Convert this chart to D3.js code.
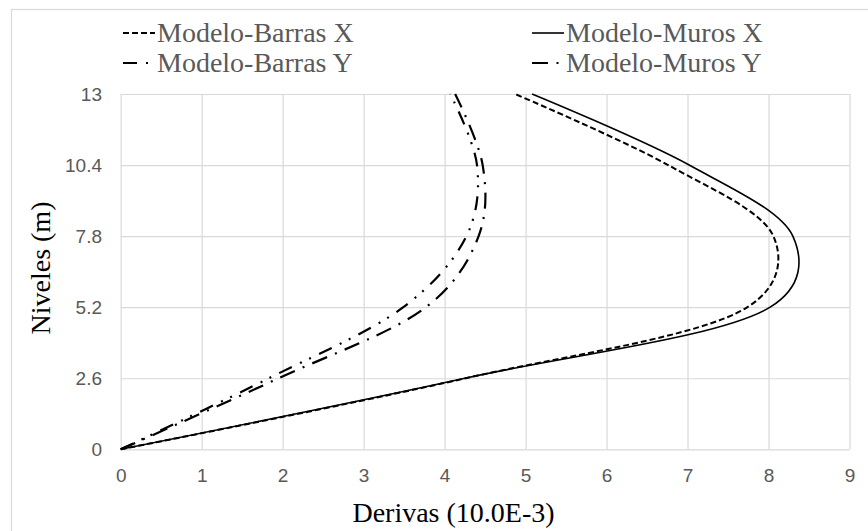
<!DOCTYPE html>
<html>
<head>
<meta charset="utf-8">
<script src="https://cdn.jsdelivr.net/npm/d3@7"></script>
<style>
body { margin: 0; background: #fff; }
</style>
</head>
<body>
<script>
// niveles de cada piso (m)
var niveles = [0, 2.6, 5.2, 7.8, 10.4, 13];

// derivas por nivel (10.0E-3)
var barrasX = [0, 4.26, 7.74, 8.06, 6.76, 4.87];
var murosX  = [0, 4.25, 8.02, 8.30, 7.02, 5.08];
var barrasY = [0, 1.83, 3.49, 4.27, 4.40, 4.07];
var murosY  = [0, 1.95, 3.77, 4.42, 4.47, 4.13];

var nombres = ["Modelo-Barras X", "Modelo-Muros X", "Modelo-Barras Y", "Modelo-Muros Y"];

var xTicks = [0, 1, 2, 3, 4, 5, 6, 7, 8, 9];
var yTicks = [0, 2.6, 5.2, 7.8, 10.4, 13];

function drawChart() {

    var width = 868, height = 531;
    var left = 120.7, right = 849.5, top = 94, bottom = 449.3;

    var svg = d3.select("body").append("svg")
        .attr("width", width)
        .attr("height", height);

    // chart border
    svg.append("rect")
        .attr("x", 11.5)
        .attr("y", 9.5)
        .attr("width", 880)
        .attr("height", 540)
        .attr("fill", "#fff")
        .attr("stroke", "#d9d9d9")
        .attr("stroke-width", 1.2);

    var x = d3.scaleLinear().domain([0, 9]).range([left, right]);
    var y = d3.scaleLinear().domain([0, 13]).range([bottom, top]);

    var xAxis = svg.append("g")
        .attr("transform", "translate(0," + bottom + ")")
        .call(d3.axisBottom(x).tickValues(xTicks).tickSize(-(bottom - top)).tickPadding(19.2).tickFormat(d3.format("d")));

    var yAxis = svg.append("g")
        .attr("transform", "translate(" + left + ",0)")
        .call(d3.axisLeft(y).tickValues(yTicks).tickSize(-(right - left)).tickPadding(18.7).tickFormat(function(d) { return String(d); }));

    [xAxis, yAxis].forEach(function(a) {
        a.select(".domain").remove();
        a.selectAll(".tick line")
            .attr("stroke", "#d9d9d9")
            .attr("stroke-width", 1.2);
        a.selectAll(".tick text")
            .attr("fill", "#595959")
            .style("font-family", "'Liberation Sans', Arial, sans-serif")
            .style("font-size", "19px");
    });

    // series
    var series = [barrasX, murosX, barrasY, murosY];
    var estilos = [
        { dash: "6,3", w: 2 },
        { dash: null, w: 1.6 },
        { dash: "14,9,2,8,2,9", w: 2.2 },
        { dash: "16,8.5,2,8.5", w: 2.2 }
    ];

    var line = d3.line()
        .x(function(d) { return x(d[0]); })
        .y(function(d) { return y(d[1]); })
        .curve(d3.curveCatmullRom.alpha(0.25));

    series.forEach(function(s, i) {
        var pts = s.map(function(v, j) { return [v, niveles[j]]; });
        svg.append("path")
            .datum(pts)
            .attr("d", line)
            .attr("fill", "none")
            .attr("stroke", "#000")
            .attr("stroke-width", estilos[i].w)
            .attr("stroke-dasharray", estilos[i].dash);
    });

    // legend
    var colX = [123, 532];
    var rowY = [33, 63];
    nombres.forEach(function(n, i) {
        var lx = colX[i % 2], ly = rowY[Math.floor(i / 2)];
        svg.append("line")
            .attr("x1", lx)
            .attr("x2", lx + 32)
            .attr("y1", ly)
            .attr("y2", ly)
            .attr("stroke", "#000")
            .attr("stroke-width", estilos[i].w)
            .attr("stroke-dasharray", estilos[i].dash);
        svg.append("text")
            .attr("x", lx + 34)
            .attr("y", ly + 8.7)
            .attr("fill", "#595959")
            .style("font-family", "'Liberation Serif', 'Times New Roman', serif")
            .style("font-size", "28px")
            .text(n);
    });

    // axis titles
    svg.append("text")
        .attr("x", 453.5)
        .attr("y", 521.7)
        .attr("text-anchor", "middle")
        .attr("fill", "#000")
        .style("font-family", "'Liberation Serif', 'Times New Roman', serif")
        .style("font-size", "28px")
        .text("Derivas (10.0E-3)");

    svg.append("text")
        .attr("transform", "translate(50,268) rotate(-90)")
        .attr("text-anchor", "middle")
        .attr("fill", "#000")
        .style("font-family", "'Liberation Serif', 'Times New Roman', serif")
        .style("font-size", "28px")
        .text("Niveles (m)");
}

drawChart();
</script>
</body>
</html>
